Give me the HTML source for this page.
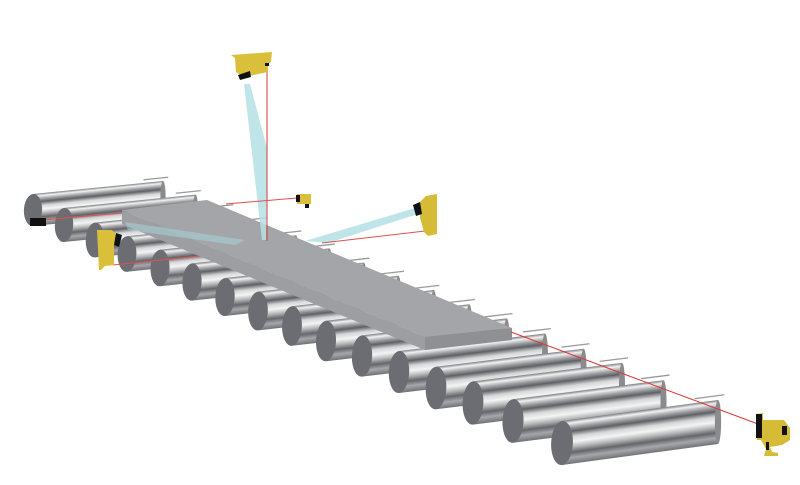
<!DOCTYPE html>
<html><head><meta charset="utf-8"><style>html,body{margin:0;padding:0;background:#fff}svg{display:block}</style></head>
<body>
<svg width="800" height="485" viewBox="0 0 800 485" xmlns="http://www.w3.org/2000/svg">
<defs>
<linearGradient id="rg" x1="0" y1="0" x2="0" y2="1">
<stop offset="0" stop-color="#7a7c80"/><stop offset=".07" stop-color="#f2f2f2"/><stop offset=".16" stop-color="#a5a6a9"/><stop offset=".26" stop-color="#5e6064"/><stop offset=".38" stop-color="#d5d6d8"/><stop offset=".5" stop-color="#f4f4f4"/><stop offset=".62" stop-color="#b4b5b7"/><stop offset=".74" stop-color="#64666a"/><stop offset=".86" stop-color="#a6a7aa"/><stop offset="1" stop-color="#6f7175"/>
</linearGradient>
<g id="roller">
<line x1="0.85" y1="-1.2" x2="1.04" y2="-1.2" stroke="#999" stroke-width="1.3" vector-effect="non-scaling-stroke"/>
<rect x="0" y="-1" width="1" height="2" fill="url(#rg)"/>
<ellipse cx="1" cy="0" rx="0.02" ry="1" fill="#8a8b8f"/>
<ellipse cx="0" cy="0" rx="0.07" ry="1" fill="#6b6d72"/>
</g>
</defs>
<use href="#roller" transform="translate(33,210) matrix(130,-13,0,16,0,0)"/>
<use href="#roller" transform="translate(64,225) matrix(131.5,-13.4,0,17,0,0)"/>
<use href="#roller" transform="translate(95,240) matrix(133,-13.8,0,17.4,0,0)"/>
<use href="#roller" transform="translate(127,254) matrix(134.4,-14.2,0,17.8,0,0)"/>
<use href="#roller" transform="translate(160,268) matrix(135.9,-14.6,0,18.2,0,0)"/>
<use href="#roller" transform="translate(192,282) matrix(137.3,-15,0,18.6,0,0)"/>
<use href="#roller" transform="translate(225,297) matrix(138.8,-15.4,0,19,0,0)"/>
<use href="#roller" transform="translate(258,311) matrix(140.3,-15.8,0,19.4,0,0)"/>
<use href="#roller" transform="translate(292,326) matrix(141.7,-16.2,0,19.8,0,0)"/>
<use href="#roller" transform="translate(326,341) matrix(143.2,-16.6,0,20.2,0,0)"/>
<use href="#roller" transform="translate(362,356) matrix(144.7,-17,0,20.6,0,0)"/>
<use href="#roller" transform="translate(399,372) matrix(146,-17.5,0,21,0,0)"/>
<use href="#roller" transform="translate(436,388) matrix(147.6,-18,0,21.3,0,0)"/>
<use href="#roller" transform="translate(473,403) matrix(149,-18.5,0,21.6,0,0)"/>
<use href="#roller" transform="translate(513,421) matrix(150.5,-19,0,21.8,0,0)"/>
<use href="#roller" transform="translate(562,443) matrix(156,-21,0,22,0,0)"/>
<!-- lines left -->
<line x1="42" y1="220" x2="122" y2="213" stroke="#e05050" stroke-width="1"/>
<line x1="113" y1="265" x2="218" y2="254" stroke="#e05050" stroke-width="1"/>
<!-- slab -->
<polygon points="122,210 122,224 425,350 425,337" fill="#9c9ea2"/>
<polygon points="425,337 512,328 512,340 425,350" fill="#8e9094"/>
<polygon points="122,210 207,200 512,328 425,337" fill="#a3a5a8"/>
<polygon points="125,222 245,240 235,245 128,230" fill="#a8d8dc" opacity=".5"/>
<!-- cyan fans -->
<polygon points="244,84 250,84 267,148 266,240 262,240" fill="#b4e1e4" opacity=".85"/>
<polygon points="415,208 418,214 328,243 305,241" fill="#b4e1e4" opacity=".85"/>
<!-- red lines -->
<line x1="267" y1="65" x2="267" y2="241" stroke="#d83a3a" stroke-width="1"/>
<line x1="226" y1="204" x2="297" y2="198" stroke="#e05050" stroke-width="1"/>
<line x1="322" y1="243" x2="425" y2="231" stroke="#e05050" stroke-width="1"/>
<line x1="511" y1="332" x2="758" y2="424" stroke="#d83a3a" stroke-width="1"/>
<!-- sensors -->
<polygon points="231,55 272,52 271,62 268,64 268,72 244,77 236,72 235,58" fill="#d9bf3a"/>
<polygon points="238,75 250,71 251,77 240,80" fill="#111"/>
<rect x="265" y="63" width="4" height="3" fill="#111"/>
<rect x="297" y="194" width="14" height="10" fill="#d9bf3a"/><rect x="296" y="195" width="4" height="7" fill="#111"/><rect x="305" y="204" width="4" height="4" fill="#111"/>
<polygon points="426,196 437,194 437,234 428,236 424,232 420,218 420,202" fill="#d6bb36"/>
<polygon points="413,205 420,202 422,214 416,216" fill="#111"/>
<polygon points="97,230 112,230 118,236 114,245 114,265 105,266 101,270 99,270" fill="#d9bf3a"/>
<polygon points="116,233 122,235 119,247 114,245" fill="#111"/>
<rect x="30" y="218" width="16" height="8" fill="#111"/>
<polygon points="757,414 763,413 763,420 784,420 790,428 790,440 782,445 770,447 772,452 778,453 778,456 764,456 766,449 761,440 757,440" fill="#d6bb36"/>
<rect x="756" y="414" width="6" height="24" fill="#111"/><rect x="782" y="426" width="5" height="9" fill="#111"/><rect x="766" y="442" width="3" height="8" fill="#111"/>
</svg>
</body></html>
